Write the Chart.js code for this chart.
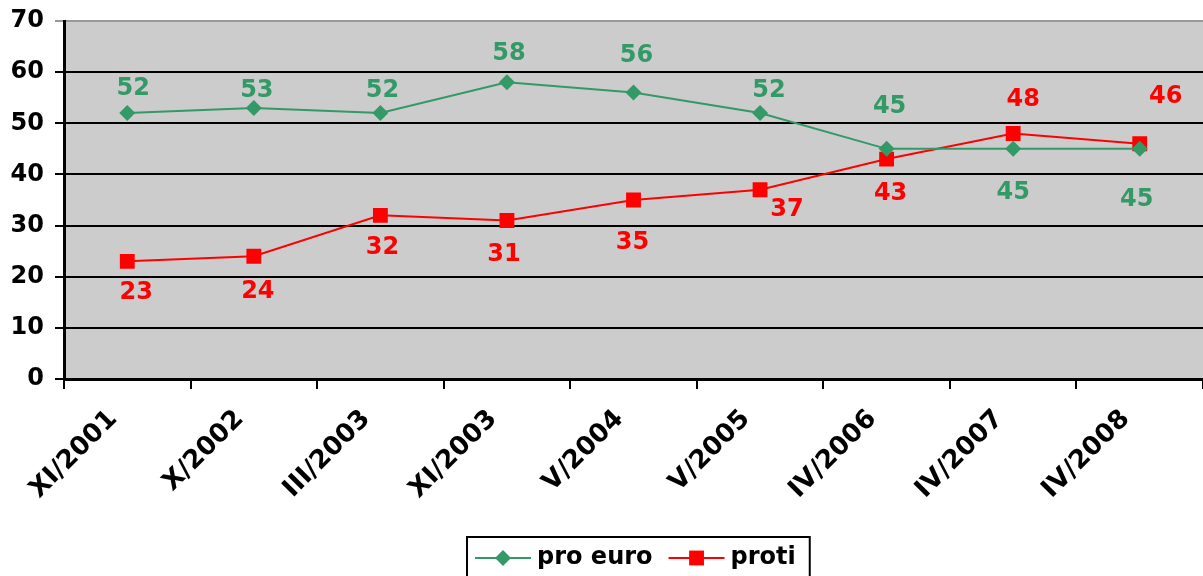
<!DOCTYPE html>
<html>
<head>
<meta charset="utf-8">
<script src="https://cdn.jsdelivr.net/npm/chart.js@4/dist/chart.umd.min.js"></script>
<style>
  body { margin: 0; background: #fff; }
  #wrap { width: 1203px; height: 576px; }
</style>
</head>
<body>
<div id="wrap"><canvas id="chart" width="1203" height="576"></canvas></div>
<script>
// categories and series values
const categories = ["XI/2001", "X/2002", "III/2003", "XI/2003", "V/2004", "V/2005", "IV/2006", "IV/2007", "IV/2008"];
const proEuro = [52, 53, 52, 58, 56, 52, 45, 45, 45];
const proti = [23, 24, 32, 31, 35, 37, 43, 48, 46];
const yTicks = [0, 10, 20, 30, 40, 50, 60, 70];

// label nudges (px) relative to each point
const proEuroLabelDx = [6, 3, 2, 2, 3, 9, 3, 0, -3];
const proEuroLabelDy = [-24, -17, -22, -29, -37, -22, -42, 44, 51];
const protiLabelDx = [9, 4, 2, -3, -1, 27, 4, 10, 26];
const protiLabelDy = [31, 36, 32, 34, 43, 20, 35, -34, -47];

const GREEN = "#339966";
const RED = "#ff0000";
const FONT = "'DejaVu Sans', Verdana, sans-serif";

const plotBg = {
  id: "plotBg",
  beforeDraw(chart) {
    const a = chart.chartArea, ctx = chart.ctx;
    ctx.save();
    ctx.fillStyle = "#cccccc";
    ctx.fillRect(a.left, a.top, a.right - a.left, a.bottom - a.top);
    ctx.restore();
  }
};

const pointLabels = {
  id: "pointLabels",
  afterDatasetsDraw(chart) {
    const ctx = chart.ctx;
    const nudges = [[proEuroLabelDx, proEuroLabelDy], [protiLabelDx, protiLabelDy]];
    ctx.save();
    ctx.font = "bold 24px " + FONT;
    ctx.textAlign = "center";
    ctx.textBaseline = "middle";
    chart.data.datasets.forEach((ds, di) => {
      const meta = chart.getDatasetMeta(di);
      ctx.fillStyle = ds.borderColor;
      meta.data.forEach((pt, i) => {
        ctx.fillText(String(ds.data[i]), pt.x + nudges[di][0][i], pt.y + nudges[di][1][i]);
      });
    });
    ctx.restore();
  }
};

// boxed legend under the axis: line sample with marker, then the name
const boxedLegend = {
  id: "boxedLegend",
  afterDraw(chart) {
    const ctx = chart.ctx;
    const a = chart.chartArea;
    const sampleW = 56, gap = 6, itemGap = 16, padL = 8, padR = 14;
    ctx.save();
    ctx.font = "bold 24px " + FONT;
    const items = chart.data.datasets.map(ds => ({
      ds, w: ctx.measureText(ds.label).width
    }));
    let total = padL + padR;
    items.forEach((it, i) => { total += sampleW + gap + it.w + (i ? itemGap : 0); });
    let x = Math.round((a.left + a.right) / 2 - total / 2) + 5;
    const top = 537, cy = 558;
    ctx.strokeStyle = "#000";
    ctx.lineWidth = 2;
    ctx.strokeRect(x, top, total, 60);
    x += padL;
    items.forEach((it, i) => {
      if (i) x += itemGap;
      const ds = it.ds;
      ctx.strokeStyle = ds.borderColor;
      ctx.fillStyle = ds.borderColor;
      ctx.lineWidth = 2;
      ctx.beginPath();
      ctx.moveTo(x, cy); ctx.lineTo(x + sampleW, cy);
      ctx.stroke();
      Chart.helpers.drawPoint(ctx, { pointStyle: ds.pointStyle, radius: ds.pointRadius, borderWidth: 0 }, x + sampleW / 2, cy);
      x += sampleW + gap;
      ctx.fillStyle = "#000";
      ctx.textBaseline = "middle";
      ctx.textAlign = "left";
      ctx.fillText(ds.label, x, cy);
      x += it.w;
    });
    ctx.restore();
  }
};

new Chart(document.getElementById("chart"), {
  type: "line",
  data: {
    labels: categories,
    datasets: [
      {
        label: "pro euro",
        data: proEuro,
        borderColor: GREEN,
        backgroundColor: GREEN,
        borderWidth: 2,
        pointStyle: "rectRot",
        pointRadius: 8,
        pointBorderWidth: 0,
        tension: 0
      },
      {
        label: "proti",
        data: proti,
        borderColor: RED,
        backgroundColor: RED,
        borderWidth: 2,
        pointStyle: "rect",
        pointRadius: 10.5,
        pointBorderWidth: 0,
        tension: 0
      }
    ]
  },
  options: {
    responsive: false,
    animation: false,
    layout: { autoPadding: false, padding: { top: 21, right: 0, left: 0, bottom: 40 } },
    plugins: {
      legend: { display: false },
      tooltip: { enabled: false }
    },
    scales: {
      x: {
        offset: true,
        grid: {
          offset: true,
          drawOnChartArea: false,
          drawTicks: true,
          tickLength: 10,
          color: "#000",
          lineWidth: 2
        },
        border: { color: "#000", width: 3 },
        ticks: {
          minRotation: 45,
          maxRotation: 45,
          autoSkip: false,
          padding: 15,
          labelOffset: -14,
          color: "#000",
          font: { family: FONT, size: 26, weight: "bold" }
        },
        afterFit(scale) {
          scale.height = 157;
          scale.paddingRight = 0;
          scale.paddingLeft = 0;
        }
      },
      y: {
        min: 0,
        max: 70,
        afterBuildTicks(scale) { scale.ticks = yTicks.map(v => ({ value: v })); },
        grid: {
          color: ctx => (ctx.tick && ctx.tick.value === 70 ? "#999999" : "#000"),
          lineWidth: 2,
          tickLength: 9,
          drawTicks: true
        },
        border: { color: "#000", width: 3 },
        ticks: {
          padding: 11,
          color: "#000",
          font: { family: FONT, size: 24, weight: "bold" }
        },
        afterFit(scale) {
          scale.width = 64;
          scale.paddingTop = 0;
          scale.paddingBottom = 0;
        }
      }
    }
  },
  plugins: [plotBg, pointLabels, boxedLegend]
});
</script>
</body>
</html>
